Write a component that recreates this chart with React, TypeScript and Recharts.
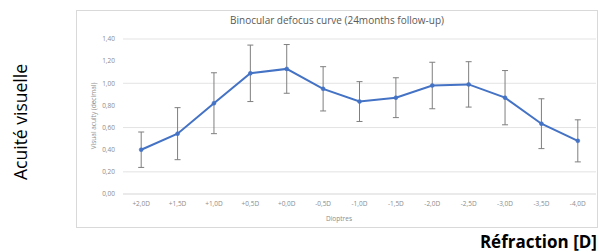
import React from 'react';
import { LineChart, Line, XAxis, YAxis, CartesianGrid, ErrorBar } from 'recharts';

const dioptres = ['+2,0D', '+1,5D', '+1,0D', '+0,5D', '+0,0D', '-0,5D', '-1,0D', '-1,5D', '-2,0D', '-2,5D', '-3,0D', '-3,5D', '-4,0D'];
const acuity = [0.40, 0.545, 0.82, 1.09, 1.13, 0.95, 0.835, 0.87, 0.98, 0.99, 0.87, 0.635, 0.48];
const sd = [0.16, 0.235, 0.275, 0.255, 0.22, 0.2, 0.18, 0.18, 0.21, 0.205, 0.245, 0.225, 0.19];
const yTicks = [0, 0.2, 0.4, 0.6, 0.8, 1.0, 1.2, 1.4];

const data = dioptres.map((d, i) => ({ name: d, va: acuity[i], err: sd[i] }));

const tickStyle = { fontSize: 6.5, fill: '#8c8c8c', fontFamily: 'Open Sans' };

export default function App() {
    return (
        <div style={{ position: 'absolute', left: 0, top: 0, width: 599, height: 252, background: '#fff', fontFamily: 'Open Sans' }}>
            {/* chart frame */}
            <div style={{ position: 'absolute', left: 76, top: 10, width: 522, height: 218, border: '1px solid #d9d9d9', boxSizing: 'border-box' }} />
            <div style={{ position: 'absolute', left: 76, top: 13, width: 522, textAlign: 'center', fontSize: 10, color: '#595959' }}>
                Binocular defocus curve (24months follow-up)
            </div>
            <LineChart
                width={599}
                height={252}
                data={data}
                margin={{ top: 39, right: 3, left: 83, bottom: 28 }}
                style={{ position: 'absolute', left: 0, top: 0 }}
            >
                <CartesianGrid stroke="#e3e3e3" vertical={false} />
                <XAxis
                    dataKey="name"
                    scale="band"
                    height={30}
                    tick={tickStyle}
                    tickLine={false}
                    axisLine={{ stroke: '#e3e3e3' }}
                    tickSize={0}
                    tickMargin={7}
                    interval={0}
                />
                <YAxis
                    width={40}
                    domain={[0, 1.4]}
                    ticks={yTicks}
                    tickFormatter={(v: number) => v.toFixed(2).replace('.', ',')}
                    tick={tickStyle}
                    tickLine={false}
                    axisLine={false}
                    tickSize={0}
                    tickMargin={8}
                />
                <Line
                    type="linear"
                    dataKey="va"
                    stroke="#4472c4"
                    strokeWidth={2}
                    dot={{ r: 2, fill: '#4472c4', stroke: '#4472c4', strokeWidth: 0.5 }}
                    isAnimationActive={false}
                >
                    <ErrorBar dataKey="err" stroke="#7f7f7f" strokeWidth={1} width={3} />
                </Line>
            </LineChart>
            <div style={{ position: 'absolute', left: 289, top: 214, width: 100, textAlign: 'center', fontSize: 6.5, color: '#8c8c8c' }}>
                Dioptres
            </div>
            <div style={{ position: 'absolute', left: 93, top: 116, width: 0, height: 0 }}>
                <div style={{ position: 'absolute', transform: 'translate(-50%, -50%) rotate(-90deg)', whiteSpace: 'nowrap', fontSize: 6.5, color: '#8c8c8c' }}>
                    Visual acuity (decimal)
                </div>
            </div>
            <div style={{ position: 'absolute', left: 21, top: 122, width: 0, height: 0 }}>
                <div style={{ position: 'absolute', transform: 'translate(-50%, -50%) rotate(-90deg)', whiteSpace: 'nowrap', fontSize: 17.5, lineHeight: 1, color: '#000' }}>
                    Acuité visuelle
                </div>
            </div>
            <div style={{ position: 'absolute', right: 2, top: 233, whiteSpace: 'nowrap', fontSize: 17, lineHeight: 1, fontWeight: 700, color: '#000' }}>
                Réfraction [D]
            </div>
        </div>
    );
}
